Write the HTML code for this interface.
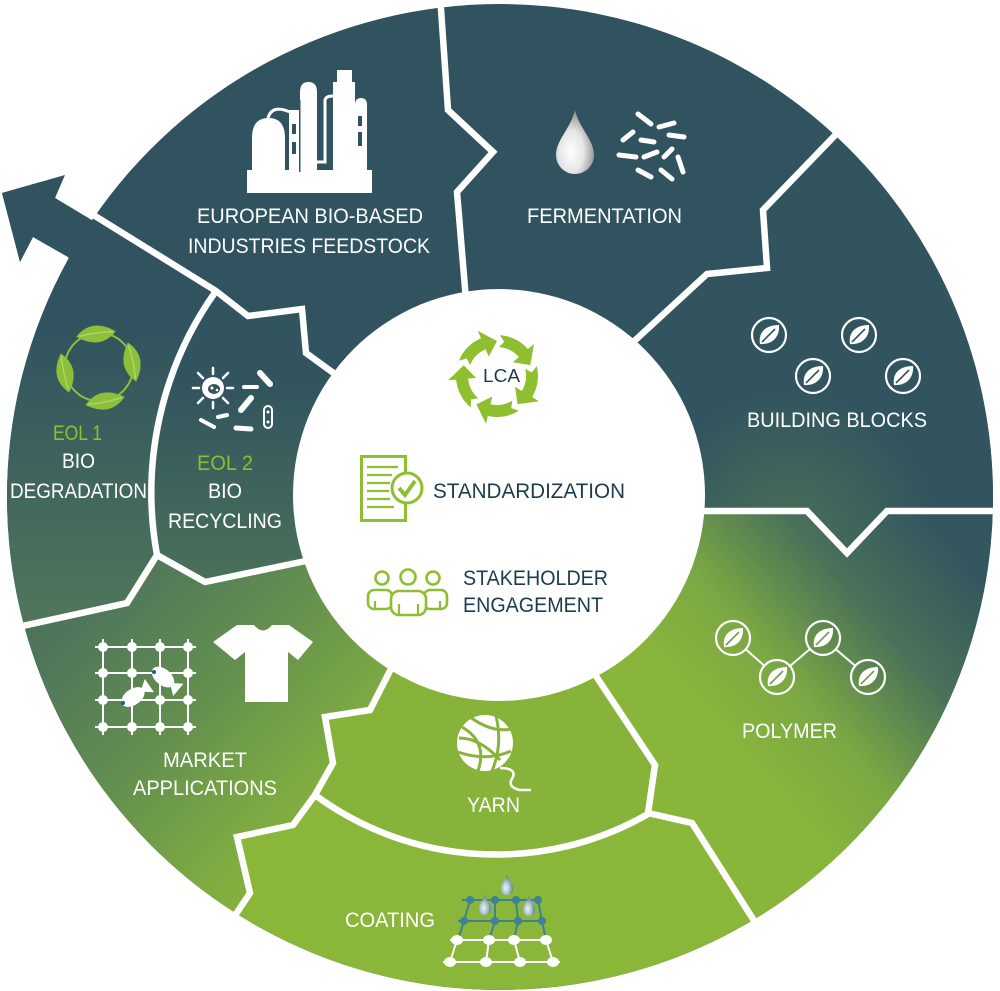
<!DOCTYPE html>
<html><head><meta charset="utf-8"><style>html,body{margin:0;padding:0;background:#fff;}svg{display:block;font-family:"Liberation Sans",sans-serif;}</style></head>
<body>
<svg width="1000" height="991" viewBox="0 0 1000 991" xmlns="http://www.w3.org/2000/svg">
<defs>
<clipPath id="ring">
<circle cx="500" cy="497" r="493"/>
<polygon points="68,257 33,237 20,262 2,193 65,175 55,198 150,255 120,330"/>
</clipPath>
<linearGradient id="gPoly" gradientUnits="userSpaceOnUse" x1="950" y1="540" x2="720" y2="740">
<stop offset="0" stop-color="#33565f"/><stop offset="0.35" stop-color="#4a7159"/><stop offset="0.7" stop-color="#7ba843"/><stop offset="1" stop-color="#8ab53b"/>
</linearGradient>
<linearGradient id="gMarket" gradientUnits="userSpaceOnUse" x1="0" y1="560" x2="300" y2="850">
<stop offset="0" stop-color="#44695d"/><stop offset="0.3" stop-color="#537a59"/><stop offset="0.6" stop-color="#65914e"/><stop offset="0.85" stop-color="#7ba843"/><stop offset="1" stop-color="#86b13d"/>
</linearGradient>
<linearGradient id="gEol1" gradientUnits="userSpaceOnUse" x1="0" y1="330" x2="0" y2="640">
<stop offset="0" stop-color="#30535f"/><stop offset="1" stop-color="#52795a"/>
</linearGradient>
<linearGradient id="gEol2" gradientUnits="userSpaceOnUse" x1="0" y1="380" x2="0" y2="590">
<stop offset="0" stop-color="#31545f"/><stop offset="1" stop-color="#4b7259"/>
</linearGradient>
<radialGradient id="gBB" gradientUnits="userSpaceOnUse" cx="790" cy="540" r="150">
<stop offset="0" stop-color="#4b7158"/><stop offset="1" stop-color="#31545f"/>
</radialGradient>
<radialGradient id="gDrop" cx="0.4" cy="0.65" r="0.65">
<stop offset="0" stop-color="#ffffff"/><stop offset="0.5" stop-color="#e6e6e6"/><stop offset="1" stop-color="#8c8c8c"/>
</radialGradient>
<radialGradient id="gDrop2" cx="0.4" cy="0.65" r="0.65">
<stop offset="0" stop-color="#eef4f7"/><stop offset="0.5" stop-color="#a9c0cc"/><stop offset="1" stop-color="#4d7489"/>
</radialGradient>
</defs>

<!-- ring segments -->
<g clip-path="url(#ring)">
<rect x="0" y="0" width="1000" height="991" fill="#30535f"/>
<path d="M840,125 L763,210 L767,268 L707,274 L630,345 L600,450 L700,511 L807,511 L847,553 L887,511 L1000,511 L1000,125 Z" fill="url(#gBB)"/>
<path d="M1000,511 L887,511 L847,553 L807,511 L700,511 L560,600 L595,675 L655,765 L648,813 L692,823 L760,930 L1000,1000 Z" fill="url(#gPoly)"/>
<path d="M595,675 L655,765 L648,814 A305,305 0 0 1 315,795 L333,763 L325,717 L370,710 L392,667 L499,600 Z" fill="#88b33b"/>
<path d="M315,795 A305,305 0 0 0 648,814 L692,823 L760,930 L760,1000 L200,1000 L225,930 L250,893 L237,837 L293,825 Z" fill="#8ab63a"/>
<path d="M0,630 L127,603 L157,555 L205,582 L305,561 L420,600 L392,667 L370,710 L325,717 L333,763 L315,795 L293,825 L237,837 L250,893 L225,930 L0,1000 Z" fill="url(#gMarket)"/>
<path d="M216,291 A347,347 0 0 0 157,555 L205,582 L305,561 L400,480 L340,378 L306,353 L302,309 L248,316 Z" fill="url(#gEol2)"/>
<path d="M58,193 L216,291 A347,347 0 0 0 157,555 L127,603 L0,630 L0,150 Z" fill="url(#gEol1)"/>
</g>

<!-- white separators -->
<g fill="none" stroke="#fff" stroke-width="6.5" stroke-linejoin="miter" stroke-miterlimit="10">
<path d="M58,193 L216,291 L248,316 L302,309 L306,353 L350,385"/>
<path d="M440,-5 L448,110 L493,152 L457,192 L466,300"/>
<path d="M845,125 L763,210 L767,268 L707,274 L630,345"/>
<path d="M700,511 L807,511 L847,553 L887,511 L1000,511"/>
<path d="M588,664 L655,765 L648,813 L692,823 L765,938"/>
<path d="M315,795 A305,305 0 0 0 648,814"/>
<path d="M216,291 A347,347 0 0 0 157,555"/>
<path d="M0,631 L127,603 L157,555 L205,582 L320,558"/>
<path d="M398,655 L370,710 L325,717 L333,763 L315,795 L293,825 L237,837 L250,893 L222,935"/>
</g>

<!-- inner circle -->
<circle cx="499" cy="495" r="206" fill="#fff"/>

<!-- factory icon -->
<g fill="#fff">
<rect x="247" y="170" width="125" height="23"/>
<path d="M252,172 L252,138 Q252,118 268.5,118 Q285,118 285,138 L285,172 Z"/>
<rect x="289" y="110" width="10" height="62"/>
<path d="M300,172 L300,92 Q300,82 308.5,82 Q317,82 317,92 L317,172 Z"/>
<rect x="333" y="82" width="22" height="90"/>
<rect x="337" y="70" width="15" height="13"/>
<path d="M355,172 L355,105 Q355,98 361,98 Q367,98 367,105 L367,172 Z"/>
</g>
<g fill="none" stroke="#fff" stroke-width="3">
<path d="M268,118 Q272,104 290,112"/>
<path d="M317,162 L325,162 L325,101 Q325,96 333,96"/>
</g>
<g fill="#30535f">
<rect x="292" y="124" width="4" height="10"/><rect x="292" y="142" width="4" height="12"/>
<rect x="358" y="116" width="4" height="10"/><rect x="358" y="132" width="4" height="14"/>
<rect x="299" y="100" width="1.5" height="72"/>
</g>

<!-- fermentation icons -->
<path d="M575,110 C571,128 556,140 556,155 C556,166 565,174 575,174 C585,174 594,166 594,155 C594,140 579,128 575,110 Z" fill="url(#gDrop)"/>
<g stroke="#fff" stroke-width="5" stroke-linecap="round">
<line x1="638" y1="114" x2="651" y2="124"/>
<line x1="659" y1="127" x2="674" y2="123"/>
<line x1="623" y1="140" x2="633" y2="132"/>
<line x1="641" y1="140" x2="654" y2="142"/>
<line x1="669" y1="135" x2="684" y2="137"/>
<line x1="619" y1="155" x2="636" y2="157"/>
<line x1="644" y1="157" x2="657" y2="152"/>
<line x1="664" y1="157" x2="672" y2="149"/>
<line x1="678" y1="157" x2="683" y2="172"/>
<line x1="638" y1="170" x2="651" y2="177"/>
<line x1="661" y1="170" x2="672" y2="179"/>
</g>

<!-- building blocks -->
<g fill="none" stroke="#fff" stroke-width="2.2">
<circle cx="769" cy="335" r="17"/><circle cx="859" cy="335" r="17"/>
<circle cx="813" cy="376" r="17"/><circle cx="903" cy="376" r="17"/>
</g>
<g fill="#fff">
<path transform="translate(769,335)" d="M-9,9 C-11,-3 -3,-10 10,-10 C11,2 3,10 -9,9 Z"/>
<path transform="translate(859,335)" d="M-9,9 C-11,-3 -3,-10 10,-10 C11,2 3,10 -9,9 Z"/>
<path transform="translate(813,376)" d="M-9,9 C-11,-3 -3,-10 10,-10 C11,2 3,10 -9,9 Z"/>
<path transform="translate(903,376)" d="M-9,9 C-11,-3 -3,-10 10,-10 C11,2 3,10 -9,9 Z"/>
</g>
<g stroke="#30535f" stroke-width="1.6">
<line x1="762" y1="342" x2="775" y2="329"/><line x1="852" y1="342" x2="865" y2="329"/>
<line x1="806" y1="383" x2="819" y2="370"/><line x1="896" y1="383" x2="909" y2="370"/>
</g>

<!-- polymer -->
<g stroke="#fff" stroke-width="2">
<line x1="745.7" y1="649.3" x2="764.3" y2="665.7"/>
<line x1="790" y1="666" x2="810" y2="649"/>
<line x1="835.8" y1="649.2" x2="855.2" y2="665.8"/>
</g>
<g fill="none" stroke="#fff" stroke-width="2.2">
<circle cx="733" cy="638" r="17"/><circle cx="777" cy="677" r="17"/>
<circle cx="823" cy="638" r="17"/><circle cx="868" cy="677" r="17"/>
</g>
<g fill="#fff">
<path transform="translate(733,638)" d="M-9,9 C-11,-3 -3,-10 10,-10 C11,2 3,10 -9,9 Z"/>
<path transform="translate(777,677)" d="M-9,9 C-11,-3 -3,-10 10,-10 C11,2 3,10 -9,9 Z"/>
<path transform="translate(823,638)" d="M-9,9 C-11,-3 -3,-10 10,-10 C11,2 3,10 -9,9 Z"/>
<path transform="translate(868,677)" d="M-9,9 C-11,-3 -3,-10 10,-10 C11,2 3,10 -9,9 Z"/>
</g>
<g stroke="#6f9c4a" stroke-width="1.6">
<line x1="726" y1="645" x2="739" y2="632"/><line x1="770" y1="684" x2="783" y2="671"/>
<line x1="816" y1="645" x2="829" y2="632"/><line x1="861" y1="684" x2="874" y2="671"/>
</g>

<!-- EOL1 leaves -->
<circle cx="99" cy="367" r="34" fill="none" stroke="#8cc03b" stroke-width="2"/>
<g fill="#8cc03b">
<path transform="translate(96,334) rotate(-8)" d="M-20,0 Q-2,-17 20,0 Q2,17 -20,0 Z"/>
<path transform="translate(132,362) rotate(78)" d="M-20,0 Q-2,-17 20,0 Q2,17 -20,0 Z"/>
<path transform="translate(105,401) rotate(168)" d="M-20,0 Q-2,-17 20,0 Q2,17 -20,0 Z"/>
<path transform="translate(65,373) rotate(258)" d="M-20,0 Q-2,-17 20,0 Q2,17 -20,0 Z"/>
</g>
<g stroke="#b4d86a" stroke-width="1.2" fill="none">
<path transform="translate(96,334) rotate(-8)" d="M-17,0 Q0,-2 17,0"/>
<path transform="translate(132,362) rotate(78)" d="M-17,0 Q0,-2 17,0"/>
<path transform="translate(105,401) rotate(168)" d="M-17,0 Q0,-2 17,0"/>
<path transform="translate(65,373) rotate(258)" d="M-17,0 Q0,-2 17,0"/>
</g>

<!-- EOL2 bacteria -->
<g stroke="#fff" stroke-width="2.5" stroke-linecap="round">
<line x1="213" y1="374" x2="213" y2="368"/><line x1="223" y1="378" x2="228" y2="373"/>
<line x1="227" y1="388" x2="233" y2="388"/><line x1="223" y1="398" x2="228" y2="403"/>
<line x1="213" y1="402" x2="213" y2="408"/><line x1="203" y1="398" x2="198" y2="403"/>
<line x1="199" y1="388" x2="193" y2="388"/><line x1="203" y1="378" x2="198" y2="373"/>
</g>
<circle cx="213" cy="388" r="11" fill="#fff"/>
<ellipse cx="214" cy="389" rx="6" ry="5" fill="#33565f"/>
<circle cx="212" cy="388" r="1.5" fill="#fff"/><circle cx="217" cy="390" r="1.3" fill="#fff"/>
<g stroke="#fff" stroke-linecap="round">
<line x1="260" y1="373" x2="270" y2="384" stroke-width="6"/>
<line x1="244" y1="387" x2="257" y2="387" stroke-width="4"/>
<line x1="241" y1="410" x2="251" y2="398" stroke-width="6"/>
<line x1="218" y1="417" x2="227" y2="415" stroke-width="4"/>
<line x1="201" y1="420" x2="214" y2="427" stroke-width="4"/>
<line x1="236" y1="428" x2="251" y2="429" stroke-width="5"/>
</g>
<rect x="264" y="406" width="8" height="22" rx="4" fill="none" stroke="#fff" stroke-width="2"/>
<circle cx="268" cy="412" r="1.5" fill="#fff"/><circle cx="268" cy="422" r="1.5" fill="#fff"/>

<!-- market grid -->
<g stroke="#fff" stroke-width="2">
<line x1="95" y1="647" x2="196" y2="647"/><line x1="95" y1="673" x2="196" y2="673"/>
<line x1="95" y1="700" x2="196" y2="700"/><line x1="95" y1="727" x2="196" y2="727"/>
<line x1="103" y1="639" x2="103" y2="735"/><line x1="132" y1="639" x2="132" y2="735"/>
<line x1="160" y1="639" x2="160" y2="735"/><line x1="188" y1="639" x2="188" y2="735"/>
</g>
<g fill="#fff">
<circle cx="103" cy="647" r="5"/><circle cx="132" cy="647" r="5"/><circle cx="160" cy="647" r="5"/><circle cx="188" cy="647" r="5"/>
<circle cx="103" cy="673" r="5"/><circle cx="132" cy="673" r="5"/><circle cx="160" cy="673" r="5"/><circle cx="188" cy="673" r="5"/>
<circle cx="103" cy="700" r="5"/><circle cx="132" cy="700" r="5"/><circle cx="160" cy="700" r="5"/><circle cx="188" cy="700" r="5"/>
<circle cx="103" cy="727" r="5"/><circle cx="132" cy="727" r="5"/><circle cx="160" cy="727" r="5"/><circle cx="188" cy="727" r="5"/>
<g transform="translate(163,677) rotate(40)"><ellipse cx="0" cy="0" rx="13" ry="8"/><polygon points="9,0 20,-8 20,8"/></g>
<g transform="translate(133,697) rotate(-35)"><ellipse cx="0" cy="0" rx="13" ry="8"/><polygon points="9,0 20,-8 20,8"/></g>
</g>
<circle cx="154" cy="672" r="2" fill="#1f5a8a"/><circle cx="123" cy="703" r="2" fill="#1f5a8a"/>
<!-- t-shirt -->
<path d="M237,625 L254,625 Q263,636 272,625 L289,625 L313,642 L298,660 L288,652 L288,702 L245,702 L245,652 L235,660 L213,642 Z" fill="#fff"/>

<!-- yarn -->
<circle cx="485" cy="743" r="28" fill="#fff"/>
<g fill="none" stroke="#88b33b" stroke-width="3">
<path d="M462,727 Q488,742 478,771"/>
<path d="M470,717 Q492,733 511,729"/>
<path d="M458,752 Q486,762 511,751"/>
<path d="M496,716 Q503,745 492,771"/>
<path d="M459,738 Q480,738 500,760"/>
</g>
<path d="M500,768 Q516,768 513,777 Q506,787 520,790 L531,790" fill="none" stroke="#fff" stroke-width="2.5"/>

<!-- coating -->
<g stroke="#3f8197" stroke-width="2" fill="none">
<polyline points="462,900 541,900"/><polyline points="458,921 546,921"/>
<line x1="470" y1="900" x2="464" y2="921"/><line x1="495" y1="900" x2="495" y2="921"/>
<line x1="516" y1="900" x2="518" y2="921"/><line x1="538" y1="900" x2="542" y2="921"/>
<line x1="464" y1="921" x2="458" y2="940"/><line x1="495" y1="921" x2="489" y2="940"/>
<line x1="518" y1="921" x2="514" y2="940"/><line x1="542" y1="921" x2="546" y2="940"/>
</g>
<g fill="#3f8197">
<circle cx="470" cy="900" r="4"/><circle cx="495" cy="900" r="4"/><circle cx="516" cy="900" r="4"/><circle cx="538" cy="900" r="4"/>
<circle cx="464" cy="921" r="4"/><circle cx="495" cy="921" r="4"/><circle cx="518" cy="921" r="4"/><circle cx="542" cy="921" r="4"/>
</g>
<g stroke="#fff" stroke-width="2">
<line x1="450" y1="940" x2="552" y2="940"/><line x1="443" y1="962" x2="560" y2="962"/>
<line x1="457" y1="940" x2="450" y2="962"/><line x1="489" y1="940" x2="486" y2="962"/>
<line x1="514" y1="940" x2="520" y2="962"/><line x1="546" y1="940" x2="553" y2="962"/>
</g>
<g fill="#fff">
<ellipse cx="457" cy="940" rx="6" ry="5"/><ellipse cx="489" cy="940" rx="6" ry="5"/><ellipse cx="514" cy="940" rx="6" ry="5"/><ellipse cx="546" cy="940" rx="6" ry="5"/>
<ellipse cx="450" cy="962" rx="6" ry="5"/><ellipse cx="486" cy="962" rx="6" ry="5"/><ellipse cx="520" cy="962" rx="6" ry="5"/><ellipse cx="553" cy="962" rx="6" ry="5"/>
</g>
<path transform="translate(507,887)" d="M0,-12 C-2,-6 -6,-3 -6,2 A6,6 0 0 0 6,2 C6,-3 2,-6 0,-12 Z" fill="url(#gDrop2)"/>
<path transform="translate(485,907)" d="M0,-12 C-2,-6 -6,-3 -6,2 A6,6 0 0 0 6,2 C6,-3 2,-6 0,-12 Z" fill="url(#gDrop2)"/>
<path transform="translate(529,908)" d="M0,-12 C-2,-6 -6,-3 -6,2 A6,6 0 0 0 6,2 C6,-3 2,-6 0,-12 Z" fill="url(#gDrop2)"/>

<!-- LCA ring -->
<g transform="translate(497,376)" fill="#8dbf2e">
<path transform="rotate(12)" d="M-40.38,-7.12 A41,41 0 0 1 -23.52,-33.59 L-28.11,-40.14 L-7.28,-34.23 L-12.05,-17.20 L-16.63,-23.76 A29,29 0 0 0 -28.56,-5.03 L-33.29,-10.82 Z"/>
<path transform="rotate(84)" d="M-40.38,-7.12 A41,41 0 0 1 -23.52,-33.59 L-28.11,-40.14 L-7.28,-34.23 L-12.05,-17.20 L-16.63,-23.76 A29,29 0 0 0 -28.56,-5.03 L-33.29,-10.82 Z"/>
<path transform="rotate(156)" d="M-40.38,-7.12 A41,41 0 0 1 -23.52,-33.59 L-28.11,-40.14 L-7.28,-34.23 L-12.05,-17.20 L-16.63,-23.76 A29,29 0 0 0 -28.56,-5.03 L-33.29,-10.82 Z"/>
<path transform="rotate(228)" d="M-40.38,-7.12 A41,41 0 0 1 -23.52,-33.59 L-28.11,-40.14 L-7.28,-34.23 L-12.05,-17.20 L-16.63,-23.76 A29,29 0 0 0 -28.56,-5.03 L-33.29,-10.82 Z"/>
<path transform="rotate(300)" d="M-40.38,-7.12 A41,41 0 0 1 -23.52,-33.59 L-28.11,-40.14 L-7.28,-34.23 L-12.05,-17.20 L-16.63,-23.76 A29,29 0 0 0 -28.56,-5.03 L-33.29,-10.82 Z"/>
</g>

<!-- standardization icon -->
<rect x="361.5" y="456.5" width="44" height="64" fill="#fff" stroke="#8dbf2e" stroke-width="3"/>
<g stroke="#8dbf2e" stroke-width="2.2">
<line x1="367" y1="467" x2="398" y2="467"/><line x1="367" y1="475" x2="392" y2="475"/>
<line x1="367" y1="483" x2="390" y2="483"/><line x1="367" y1="491" x2="389" y2="491"/>
<line x1="367" y1="499" x2="390" y2="499"/><line x1="367" y1="507" x2="394" y2="507"/>
</g>
<circle cx="407" cy="488" r="15" fill="#fff" stroke="#8dbf2e" stroke-width="3"/>
<path d="M399,488 L405,495 L415,481" fill="none" stroke="#8dbf2e" stroke-width="4"/>

<!-- stakeholder icon -->
<g fill="#fff" stroke="#8dbf2e" stroke-width="2.6">
<rect x="368" y="590" width="24" height="19" rx="6"/>
<rect x="424" y="590" width="23" height="19" rx="6"/>
<circle cx="382" cy="578" r="6.5"/>
<circle cx="433" cy="578" r="6.5"/>
<rect x="391" y="591" width="35" height="24" rx="8"/>
<circle cx="408" cy="577" r="7.5"/>
</g>
<g stroke="#8dbf2e" stroke-width="2.2">
<line x1="399" y1="604" x2="399" y2="615"/><line x1="418" y1="604" x2="418" y2="615"/>
<line x1="375" y1="601" x2="375" y2="609"/><line x1="440" y1="601" x2="440" y2="609"/>
</g>

<!-- labels -->
<g fill="#fff" font-size="21">
<text x="197" y="223" textLength="226" lengthAdjust="spacingAndGlyphs">EUROPEAN BIO-BASED</text>
<text x="188" y="253" textLength="242" lengthAdjust="spacingAndGlyphs">INDUSTRIES FEEDSTOCK</text>
<text x="527" y="223" textLength="155" lengthAdjust="spacingAndGlyphs">FERMENTATION</text>
<text x="747" y="427" textLength="180" lengthAdjust="spacingAndGlyphs">BUILDING BLOCKS</text>
<text x="742" y="738" textLength="95" lengthAdjust="spacingAndGlyphs">POLYMER</text>
<text x="163" y="767" textLength="84" lengthAdjust="spacingAndGlyphs">MARKET</text>
<text x="133" y="795" textLength="144" lengthAdjust="spacingAndGlyphs">APPLICATIONS</text>
<text x="467" y="812" textLength="53" lengthAdjust="spacingAndGlyphs">YARN</text>
<text x="345" y="927" textLength="90" lengthAdjust="spacingAndGlyphs">COATING</text>
<text x="62" y="468" textLength="33" lengthAdjust="spacingAndGlyphs">BIO</text>
<text x="10" y="498" textLength="137" lengthAdjust="spacingAndGlyphs">DEGRADATION</text>
<text x="208" y="498" textLength="34" lengthAdjust="spacingAndGlyphs">BIO</text>
<text x="168" y="528" textLength="114" lengthAdjust="spacingAndGlyphs">RECYCLING</text>
</g>
<g fill="#8dbf2e" font-size="21">
<text x="53" y="440" textLength="49" lengthAdjust="spacingAndGlyphs">EOL 1</text>
<text x="197" y="470" textLength="56" lengthAdjust="spacingAndGlyphs">EOL 2</text>
</g>
<g fill="#1c3c4e">
<text x="483" y="382" font-size="18" textLength="37" lengthAdjust="spacingAndGlyphs">LCA</text>
<text x="433" y="498" font-size="21" textLength="192" lengthAdjust="spacingAndGlyphs">STANDARDIZATION</text>
<text x="463" y="585" font-size="21" textLength="145" lengthAdjust="spacingAndGlyphs">STAKEHOLDER</text>
<text x="463" y="612" font-size="21" textLength="140" lengthAdjust="spacingAndGlyphs">ENGAGEMENT</text>
</g>
</svg>
</body></html>
